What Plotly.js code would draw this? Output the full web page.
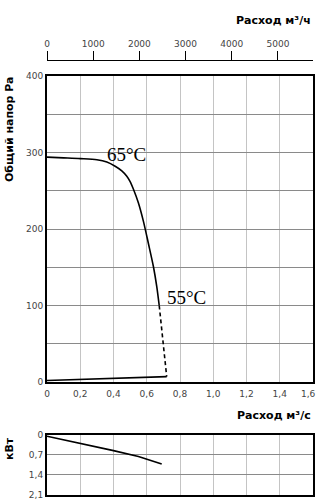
<!DOCTYPE html>
<html>
<head>
<meta charset="utf-8">
<script src="https://cdn.plot.ly/plotly-3.0.1.min.js"></script>
<style>html,body{margin:0;padding:0;background:#fff}#chart{width:318px;height:500px}</style>
</head>
<body>
<div id="chart"></div>
<script>
// Pressure curve (65°C), flow m³/s vs pressure Pa
const flowSolid = [0, 0.1, 0.2, 0.3, 0.36, 0.41, 0.45, 0.48, 0.50, 0.52, 0.55, 0.58, 0.61, 0.64, 0.66, 0.675];
const pressSolid = [294, 293, 292, 290.5, 287.5, 282, 276, 269, 262, 252, 234, 210, 181, 151, 125, 100];
// Dashed part (55°C)
const flowDash = [0.675, 0.72];
const pressDash = [100, 7];
// Lower line near zero
const flowBase = [0, 0.72];
const pressBase = [2, 7];
// Power curve kW
const flowPower = [0, 0.2, 0.4, 0.55, 0.67, 0.69];
const power = [0.06, 0.30, 0.56, 0.76, 0.97, 1.02];

// Tick labels
const xTickVals = [0, 0.2, 0.4, 0.6, 0.8, 1.0, 1.2, 1.4, 1.6];
const xTickText = ['0', '0,2', '0,4', '0,6', '0,8', '1,0', '1,2', '1,4', '1,6'];
const yTickVals = [0, 50, 100, 150, 200, 250, 300, 350, 400];
const yTickText = ['0', '', '100', '', '200', '', '300', '', '400'];
const hTickVals = [0, 1000, 2000, 3000, 4000, 5000];
const hTickText = ['0', '1000', '2000', '3000', '4000', '5000'];
const pTickVals = [0, 0.7, 1.4, 2.1];
const pTickText = ['0', '0,7', '1,4', '2,1'];

const tickFont = {family: 'DejaVu Sans', size: 9, color: '#444'};
const vGrid = '#c4c4c4';
const hGrid = '#8a8a8a';

const traces = [
  {x: flowSolid, y: pressSolid, mode: 'lines', line: {color: '#000', width: 1.6, shape: 'spline', smoothing: 0.8}, xaxis: 'x', yaxis: 'y', hoverinfo: 'skip'},
  {x: flowDash, y: pressDash, mode: 'lines', line: {color: '#000', width: 1.6, dash: '4px,3px'}, xaxis: 'x', yaxis: 'y', hoverinfo: 'skip'},
  {x: flowBase, y: pressBase, mode: 'lines', line: {color: '#000', width: 1.6}, xaxis: 'x', yaxis: 'y', hoverinfo: 'skip'},
  {x: flowPower, y: power, mode: 'lines', line: {color: '#000', width: 1.6}, xaxis: 'x2', yaxis: 'y2', hoverinfo: 'skip'},
  {x: flowBase.map(v => v * 3600), y: pressBase, mode: 'lines', opacity: 0, xaxis: 'x3', yaxis: 'y', hoverinfo: 'skip', showlegend: false}
];

const boldFont = {family: 'DejaVu Sans', size: 11, color: '#000', weight: 'bold'};
const lastIdx = xTickVals.length - 1;

const layout = {
  width: 318, height: 500,
  margin: {l: 47, r: 5, t: 0, b: 0},
  paper_bgcolor: '#fff', plot_bgcolor: '#fff',
  showlegend: false,
  xaxis: {
    domain: [0, 1], range: [0, 1.6], anchor: 'y',
    tickvals: xTickVals.slice(0, lastIdx), ticktext: xTickText.slice(0, lastIdx), tickfont: tickFont,
    showgrid: true, gridcolor: vGrid, gridwidth: 1,
    showline: true, linecolor: '#000', linewidth: 2, mirror: true,
    ticks: '', zeroline: false, ticklabelstandoff: 2
  },
  yaxis: {
    domain: [1 - 382 / 500, 1 - 76 / 500], range: [0, 400], anchor: 'x',
    tickvals: yTickVals, ticktext: yTickText, tickfont: tickFont,
    ticklabeloverflow: 'allow',
    showgrid: true, gridcolor: hGrid, gridwidth: 1,
    showline: true, linecolor: '#000', linewidth: 2, mirror: true,
    ticks: '', zeroline: false
  },
  xaxis2: {
    domain: [0, 1], range: [0, 1.6], anchor: 'y2',
    tickvals: xTickVals, showticklabels: false,
    showgrid: true, gridcolor: vGrid, gridwidth: 1,
    showline: true, linecolor: '#000', linewidth: 2, mirror: true,
    ticks: '', zeroline: false
  },
  yaxis2: {
    domain: [1 - 495 / 500, 1 - 434.5 / 500], range: [2.1, 0], anchor: 'x2',
    tickvals: pTickVals, ticktext: pTickText, tickfont: tickFont,
    ticklabeloverflow: 'allow',
    showgrid: true, gridcolor: hGrid, gridwidth: 1,
    showline: true, linecolor: '#000', linewidth: 2, mirror: true,
    ticks: '', zeroline: false
  },
  xaxis3: {
    overlaying: 'x', anchor: 'free', position: 1 - 60 / 500, side: 'top',
    range: [0, 1.6 * 3600],
    tickvals: hTickVals, ticktext: hTickText, tickfont: tickFont,
    showgrid: false, zeroline: false,
    showline: true, linecolor: '#000', linewidth: 1,
    ticks: 'outside', ticklen: 9, tickcolor: '#000', tickwidth: 1
  },
  annotations: [
    {text: xTickText[lastIdx], xref: 'paper', yref: 'paper', x: 1 + 5 / 266, y: 1 - 394 / 500, xanchor: 'right', yanchor: 'middle', showarrow: false, font: tickFont},
    {text: 'Расход м³/ч', xref: 'paper', yref: 'paper', x: 1, y: 1 - 20 / 500, xanchor: 'right', yanchor: 'middle', showarrow: false, font: boldFont},
    {text: 'Расход м³/с', xref: 'paper', yref: 'paper', x: 1, y: 1 - 415 / 500, xanchor: 'right', yanchor: 'middle', showarrow: false, font: boldFont},
    {text: 'Общий напор Pa', xref: 'paper', yref: 'paper', x: -47 / 266 + 9 / 266, y: 1 - 129 / 500, xanchor: 'center', yanchor: 'middle', textangle: -90, showarrow: false, font: boldFont},
    {text: 'кВт', xref: 'paper', yref: 'paper', x: -47 / 266 + 9 / 266, y: 1 - 449 / 500, xanchor: 'center', yanchor: 'middle', textangle: -90, showarrow: false, font: boldFont},
    {text: '65°C', xref: 'x', yref: 'y', x: 0.479, y: 297, xanchor: 'center', yanchor: 'middle', showarrow: false, font: {family: 'Liberation Serif', size: 19, color: '#000'}},
    {text: '55°C', xref: 'x', yref: 'y', x: 0.839, y: 110, xanchor: 'center', yanchor: 'middle', showarrow: false, font: {family: 'Liberation Serif', size: 19, color: '#000'}}
  ]
};

Plotly.newPlot('chart', traces, layout, {staticPlot: true, displayModeBar: false});
</script>
</body>
</html>
